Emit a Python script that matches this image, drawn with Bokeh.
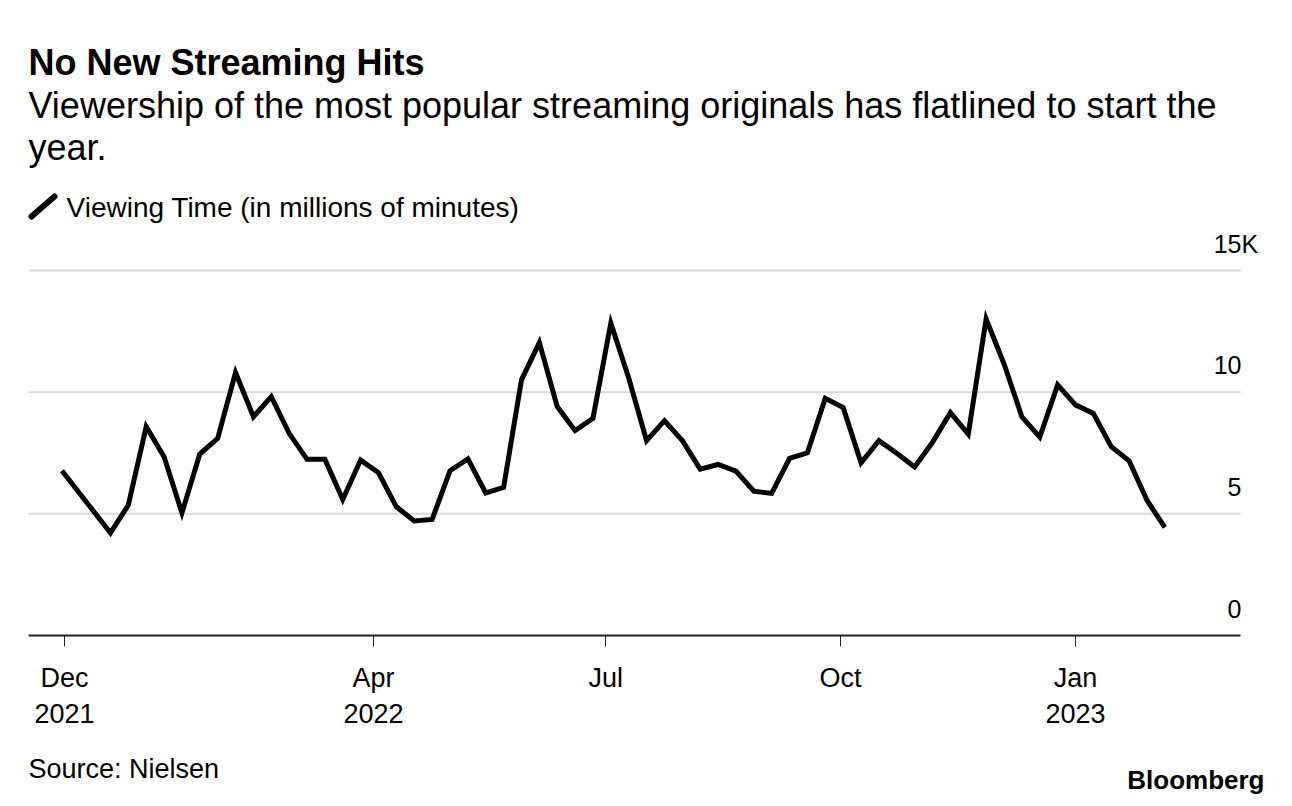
import pandas as pd
from bokeh.plotting import figure
from bokeh.models import Range1d, FixedTicker, Label, Arrow, ColumnDataSource, DatetimeAxis
from bokeh.embed import file_html
from bokeh.resources import INLINE

# ---------------- data ----------------
dates = [
    "2021-11-30", "2021-12-19", "2021-12-26", "2022-01-02", "2022-01-09", "2022-01-16",
    "2022-01-23", "2022-01-30", "2022-02-06", "2022-02-13", "2022-02-20", "2022-02-27",
    "2022-03-06", "2022-03-13", "2022-03-20", "2022-03-27", "2022-04-03", "2022-04-10",
    "2022-04-17", "2022-04-24", "2022-05-01", "2022-05-08", "2022-05-15", "2022-05-22",
    "2022-05-29", "2022-06-05", "2022-06-12", "2022-06-19", "2022-06-26", "2022-07-03",
    "2022-07-10", "2022-07-17", "2022-07-24", "2022-07-31", "2022-08-07", "2022-08-14",
    "2022-08-21", "2022-08-28", "2022-09-04", "2022-09-11", "2022-09-18", "2022-09-25",
    "2022-10-02", "2022-10-09", "2022-10-16", "2022-10-23", "2022-10-30", "2022-11-06",
    "2022-11-13", "2022-11-20", "2022-11-27", "2022-12-04", "2022-12-11", "2022-12-18",
    "2022-12-25", "2023-01-01", "2023-01-08", "2023-01-15", "2023-01-22", "2023-01-29",
    "2023-02-05",
]
viewing_time = [
    6.77, 4.22, 5.36, 8.58, 7.35, 5.04,
    7.46, 8.10, 10.81, 8.99, 9.82, 8.31,
    7.24, 7.24, 5.59, 7.21, 6.69, 5.29,
    4.71, 4.77, 6.77, 7.26, 5.86, 6.09,
    10.51, 12.04, 9.41, 8.42, 8.93, 12.84,
    10.58, 8.01, 8.83, 8.01, 6.84, 7.03,
    6.76, 5.93, 5.84, 7.28, 7.51, 9.75,
    9.37, 7.10, 8.01, 7.49, 6.93, 7.94,
    9.16, 8.28, 13.01, 11.17, 8.99, 8.15,
    10.30, 9.48, 9.13, 7.76, 7.18, 5.56,
    4.44,
]
y_ticks = [0, 5, 10, 15]
y_tick_labels = ["0", "5", "10", "15"]
x_tick_dates = ["2021-12-01", "2022-04-01", "2022-07-01", "2022-10-01", "2023-01-01"]
x_tick_labels = ["Dec\n2021", "Apr\n2022", "Jul", "Oct", "Jan\n2023"]

title_text = "No New Streaming Hits"
subtitle_lines = ["Viewership of the most popular streaming originals has flatlined to start the", "year."]
legend_text = "Viewing Time (in millions of minutes)"
source_text = "Source: Nielsen"
logo_text = "Bloomberg"


def ms(d):
    return pd.Timestamp(d).value // 10**6


FONT = "Liberation Sans"
W, H = 1290, 804

# visible extent of the chart area (gridlines / axis line)
chart_start = ms("2021-11-16 21:36")
chart_end = ms("2023-03-06 15:07")

src = ColumnDataSource(dict(date=[pd.Timestamp(d) for d in dates], value=viewing_time))

p = figure(
    width=W, height=H,
    x_axis_type=None, y_axis_location=None,
    x_range=Range1d(ms("2021-11-05 22:22"), ms("2023-03-26 05:17")),
    y_range=Range1d(-6.946, 26.10),
    output_backend="svg", toolbar_location=None, title=None,
    min_border=0,
)
p.outline_line_color = None
p.background_fill_color = "white"
p.border_fill_color = "white"
p.xgrid.visible = False
p.ygrid.visible = False

# horizontal gridlines
grid_vals = y_ticks[1:]
p.segment(x0=[chart_start] * len(grid_vals), x1=[chart_end] * len(grid_vals),
          y0=grid_vals, y1=grid_vals, line_color="#d9d9d9", line_width=2)

# data line
p.line(x="date", y="value", source=src, line_width=5, line_color="black", line_join="miter")

# x axis fixed at zero inside the frame
ax = DatetimeAxis(fixed_location=0, bounds=(chart_start, chart_end))
ax.ticker = FixedTicker(ticks=[ms(d) for d in x_tick_dates])
ax.major_label_overrides = {int(ms(d)): lab for d, lab in zip(x_tick_dates, x_tick_labels)}
ax.axis_line_color = "#222222"
ax.axis_line_width = 2
ax.major_tick_line_color = "#222222"
ax.major_tick_line_width = 1
ax.major_tick_out = 11
ax.major_tick_in = 0
ax.minor_tick_out = 0
ax.minor_tick_in = 0
ax.major_label_standoff = 16
ax.major_label_text_font = FONT
ax.major_label_text_font_size = "27px"
ax.major_label_text_color = "black"
ax.major_label_text_line_height = 1.2
p.add_layout(ax, "below")

# y tick labels above the gridlines, right side
for v, lab in zip(y_ticks, y_tick_labels):
    p.add_layout(Label(x=1241, x_units="screen", y=v, y_units="data", y_offset=27,
                       text=lab, text_align="right", text_baseline="middle",
                       text_font=FONT, text_font_size="25px", text_color="black"))
p.add_layout(Label(x=1241, x_units="screen", y=y_ticks[-1], y_units="data", y_offset=27,
                   text="K", text_align="left", text_baseline="middle",
                   text_font=FONT, text_font_size="25px", text_color="black"))


def top_label(px, py, text, size, bold=False, align="left"):
    p.add_layout(Label(x=px, y=H - py, x_units="screen", y_units="screen", text=text,
                       text_font=FONT, text_font_style="bold" if bold else "normal",
                       text_font_size=size, text_align=align,
                       text_baseline="middle", text_color="black"))


# titles
top_label(28, 62, title_text, "36px", bold=True)
for i, line in enumerate(subtitle_lines):
    top_label(28, 105 + 42 * i, line, "36px")

# legend
p.add_layout(Arrow(end=None, x_start=31, y_start=H - 216, x_end=54, y_end=H - 196,
                   start_units="screen", end_units="screen",
                   line_width=6, line_color="black", line_cap="round"))
top_label(66, 207, legend_text, "28px")

# footer
top_label(28, 768, source_text, "27px")
top_label(1264, 779, logo_text, "26px", bold=True, align="right")

open("out.html", "w").write(file_html(p, INLINE))
